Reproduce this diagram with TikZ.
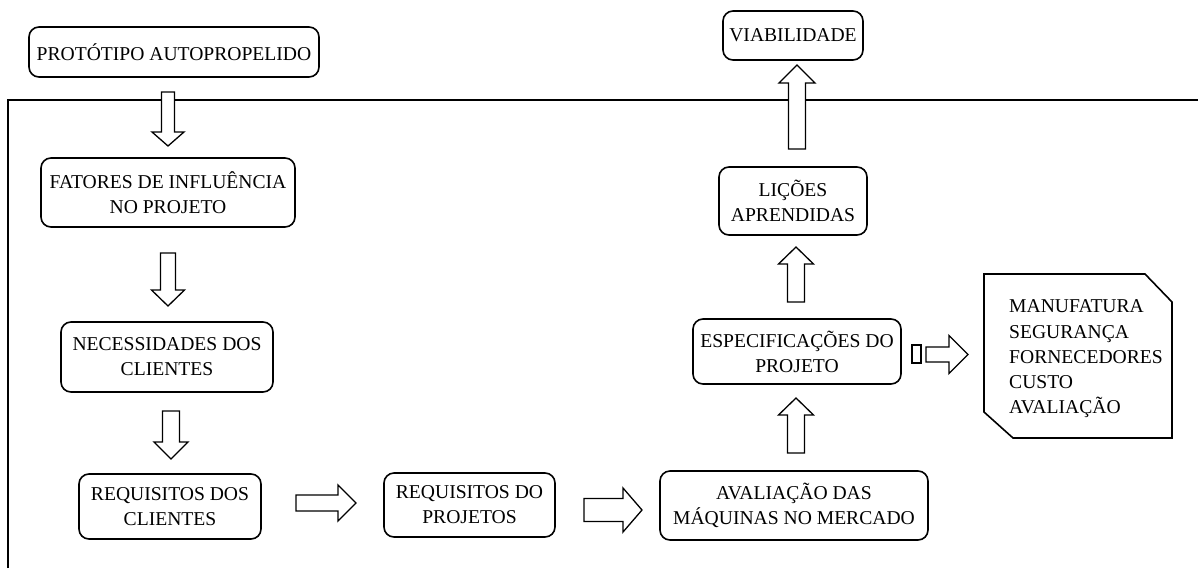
\documentclass[tikz,border=0pt]{standalone}
\usepackage{fontspec}
\setmainfont{Liberation Serif}
\usetikzlibrary{calc}
\tikzset{
  box/.style={draw, line width=1.6pt, rounded corners=10pt, fill=white, align=center,
              inner sep=0pt, font=\fontsize{19.6}{25}\selectfont},
  blk/.style={draw, line width=1.3pt, fill=white, line join=miter},
  framel/.style={line width=1.4pt},
  doctext/.style={align=left, inner sep=0pt, font=\fontsize{19.6}{25.25}\selectfont},
}
% vertical block arrow: x, y start, y head base, y tip, shaft half width, head half width
\newcommand\varr[6]{\draw[blk] ({#1-#5},#2) -- ({#1+#5},#2) -- ({#1+#5},#3) -- ({#1+#6},#3) -- (#1,#4) -- ({#1-#6},#3) -- ({#1-#5},#3) -- cycle;}
% horizontal block arrow: y, x start, x head base, x tip, shaft half width, head half width
\newcommand\harr[6]{\draw[blk] (#2,{#1-#5}) -- (#3,{#1-#5}) -- (#3,{#1-#6}) -- (#4,#1) -- (#3,{#1+#6}) -- (#3,{#1+#5}) -- (#2,{#1+#5}) -- cycle;}
\begin{document}
\begin{tikzpicture}[x=1pt,y=-1pt]
\useasboundingbox (0,0) rectangle (1198,568);
% frame
\draw[framel] (8,568) -- (8,100) -- (1198,100);
% boxes
\node[box, minimum width=290pt, minimum height=50pt] (prot) at (174,52) {PROTÓTIPO AUTOPROPELIDO};
\node[box, minimum width=254pt, minimum height=69pt] (fat) at (168,192.5) {FATORES DE INFLUÊNCIA\\NO PROJETO};
\node[box, minimum width=212pt, minimum height=70pt] (nec) at (167,357) {NECESSIDADES DOS\\CLIENTES};
\node[box, minimum width=182pt, minimum height=65pt] (reqc) at (170,506.5) {REQUISITOS DOS\\CLIENTES};
\node[box, minimum width=171pt, minimum height=64pt] (reqp) at (469.5,505) {REQUISITOS DO\\PROJETOS};
\node[box, minimum width=268pt, minimum height=69pt] (aval) at (794,505.5) {AVALIAÇÃO DAS\\MÁQUINAS NO MERCADO};
\node[box, minimum width=208pt, minimum height=65pt] (esp) at (797,351.5) {ESPECIFICAÇÕES DO\\PROJETO};
\node[box, minimum width=148pt, minimum height=68pt] (lic) at (793,201) {LIÇÕES\\APRENDIDAS};
\node[box, minimum width=140pt, minimum height=49pt] (via) at (793,35.5) {VIABILIDADE};
% document box with chamfered corners
\draw[line width=1.6pt, fill=white] (984,274) -- (1145,274) -- (1172,302) -- (1172,438) -- (1013,438) -- (984,412) -- cycle;
\node[doctext, anchor=west] (doc) at (1009,359) {MANUFATURA\\SEGURANÇA\\FORNECEDORES\\CUSTO\\AVALIAÇÃO};
% block arrows
\varr{168}{92}{132}{146}{6.5}{16}
\varr{168}{253}{290}{306}{7.5}{16.5}
\varr{171}{411}{442}{459}{8.5}{17}
\harr{503}{296}{338}{356}{8}{18}
\harr{510}{584}{623}{642}{11.5}{22}
\varr{796}{453}{415}{398}{8.5}{17.5}
\varr{796}{302}{264}{247}{8.5}{17.5}
\varr{797}{149}{83}{65}{8.5}{18}
\draw[blk] (912,345) rectangle (921,363);
\harr{354.5}{926}{949}{968}{7.5}{19}
\end{tikzpicture}
\end{document}
